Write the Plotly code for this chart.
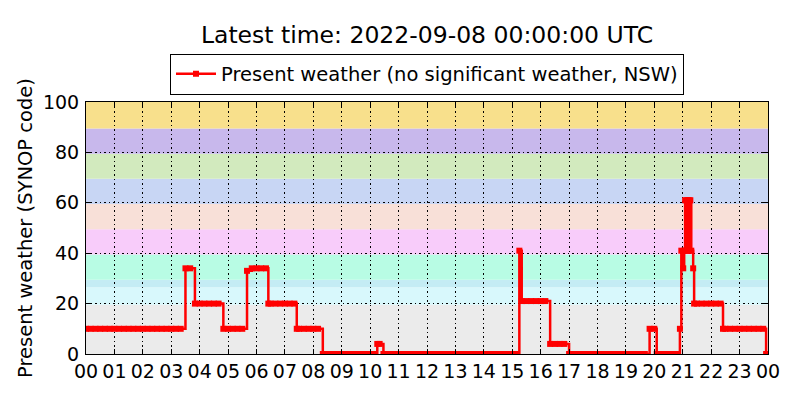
"""Present weather (SYNOP code) for one day, matplotlib-classic look in Plotly."""
import pandas as pd
import plotly.graph_objects as go

DAY = "2022-09-07"
TITLE = "Latest time: 2022-09-08 00:00:00 UTC"
SERIES_NAME = "Present weather (no significant weather, NSW)"

# observation times (HH:MM on DAY), one row per hour
obs_time = [
    "00:00", "00:10", "00:20", "00:30", "00:40", "00:50",
    "01:00", "01:10", "01:20", "01:30", "01:40", "01:50",
    "02:00", "02:10", "02:20", "02:30", "02:40", "02:50",
    "03:00", "03:10", "03:20", "03:30", "03:40", "03:50",
    "04:00", "04:10", "04:20", "04:30", "04:40", "04:50",
    "05:00", "05:10", "05:20", "05:30", "05:40", "05:50",
    "06:00", "06:10", "06:20", "06:25", "06:30", "06:40", "06:50",
    "07:00", "07:10", "07:20", "07:25", "07:30", "07:40", "07:50",
    "08:00", "08:10", "08:20", "08:30", "08:40", "08:50",
    "09:00", "09:10", "09:20", "09:30", "09:40", "09:50",
    "10:00", "10:10", "10:15", "10:20", "10:28", "10:30", "10:40", "10:50",
    "11:00", "11:10", "11:20", "11:30", "11:40", "11:50",
    "12:00", "12:10", "12:20", "12:30", "12:40", "12:50",
    "13:00", "13:10", "13:20", "13:30", "13:40", "13:50",
    "14:00", "14:10", "14:20", "14:30", "14:40", "14:50",
    "15:00", "15:10", "15:15", "15:20", "15:30", "15:40", "15:50",
    "16:00", "16:10", "16:20", "16:30", "16:40", "16:50",
    "17:00", "17:10", "17:20", "17:30", "17:40", "17:50",
    "18:00", "18:10", "18:20", "18:30", "18:40", "18:50",
    "19:00", "19:10", "19:20", "19:30", "19:40", "19:50",
    "20:00", "20:05", "20:10", "20:20", "20:30", "20:40", "20:50", "20:54", "20:57",
    "21:01", "21:03", "21:05", "21:07", "21:08", "21:10", "21:11", "21:13",
    "21:14", "21:16", "21:18", "21:22", "21:24", "21:30", "21:40", "21:50",
    "22:00", "22:10", "22:20", "22:25", "22:30", "22:40", "22:50",
    "23:00", "23:10", "23:20", "23:30", "23:40", "23:50", "23:56",
]

# SYNOP ww code at each observation, same rows as above
ww_code = [
    10, 10, 10, 10, 10, 10,
    10, 10, 10, 10, 10, 10,
    10, 10, 10, 10, 10, 10,
    10, 10, 10, 34, 34, 20,
    20, 20, 20, 20, 20, 10,
    10, 10, 10, 10, 33, 34,
    34, 34, 34, 20, 20, 20, 20,
    20, 20, 20, 10, 10, 10, 10,
    10, 10, 0, 0, 0, 0,
    0, 0, 0, 0, 0, 0,
    0, 0, 4, 4, 0, 0, 0, 0,
    0, 0, 0, 0, 0, 0,
    0, 0, 0, 0, 0, 0,
    0, 0, 0, 0, 0, 0,
    0, 0, 0, 0, 0, 0,
    0, 0, 41, 21, 21, 21, 21,
    21, 21, 4, 4, 4, 4,
    0, 0, 0, 0, 0, 0,
    0, 0, 0, 0, 0, 0,
    0, 0, 0, 0, 0, 10,
    10, 0, 0, 0, 0, 0, 0, 10, 41,
    34, 41, 61, 41, 61, 41, 61, 41,
    61, 61, 41, 34, 20, 20, 20, 20,
    20, 20, 20, 10, 10, 10, 10,
    10, 10, 10, 10, 10, 10, 0,
]

# background bands in code units
band_lo = [0, 19.5, 26.5, 29.5, 39.5, 49.5, 59.5, 69.5, 79.5, 89.5]
band_hi = [19.5, 26.5, 29.5, 39.5, 49.5, 59.5, 69.5, 79.5, 89.5, 100]
band_color = [
    "#ebebeb", "#d8f8fc", "#c4ecf4", "#b8fce4", "#f8ccfa",
    "#f8e0d8", "#c8d6f4", "#d2eabe", "#c8b8ec", "#f8e08c",
]

y_ticks = [0, 20, 40, 60, 80, 100]

FONT = "DejaVu Sans"

assert len(obs_time) == len(ww_code)
t = pd.to_datetime([f"{DAY} {hm}" for hm in obs_time])
t0 = pd.Timestamp(DAY)
t1 = t0 + pd.Timedelta(days=1)

fig = go.Figure()
fig.add_trace(go.Scatter(
    x=t, y=ww_code,
    mode="lines+markers",
    line=dict(color="red", width=2.5, shape="hv"),
    # square markers butt up against each other on 10-min spacing,
    # giving the solid thick look of the reference
    marker=dict(color="red", size=6, symbol="square"),
    name=SERIES_NAME,
    showlegend=True,
))

for lo, hi, col in zip(band_lo, band_hi, band_color):
    fig.add_shape(
        type="rect", xref="paper", yref="y",
        x0=0, x1=1, y0=lo, y1=hi,
        fillcolor=col, line_width=0, layer="below",
    )

axis_common = dict(
    showline=True, linecolor="black", linewidth=1, mirror="allticks",
    ticks="inside", ticklen=5, tickcolor="black",
    showgrid=True, gridcolor="black", griddash="1.5px,3px", gridwidth=1,
    zeroline=False, automargin=False,
    tickfont=dict(family=FONT, size=19, color="black"),
)

fig.update_xaxes(
    type="date", range=[t0, t1], dtick=3600000, tick0=t0,
    tickformat="%H", **axis_common,
)
fig.update_yaxes(
    range=[0, 100], tickvals=y_ticks, ticklabelstandoff=2,
    title=dict(text="Present weather (SYNOP code)",
               font=dict(family=FONT, size=19.5, color="black"), standoff=5),
    **axis_common,
)

# the page body adds an 8px offset, so the margins are trimmed by that
fig.update_layout(
    width=800, height=400,
    margin=dict(l=78, r=40, t=94, b=54),
    paper_bgcolor="white", plot_bgcolor="white",
    font=dict(family=FONT, color="black"),
    title=dict(text=TITLE, x=0.5, xref="paper", xanchor="center",
               y=0.933, yanchor="middle",
               font=dict(family=FONT, size=23.5, color="black")),
    legend=dict(
        x=0.5, xanchor="center", y=1.192, yanchor="top",
        itemwidth=40,
        bordercolor="black", borderwidth=1, bgcolor="white",
        font=dict(family=FONT, size=19.5, color="black"),
    ),
    showlegend=True,
)

fig.write_html("out.html")
